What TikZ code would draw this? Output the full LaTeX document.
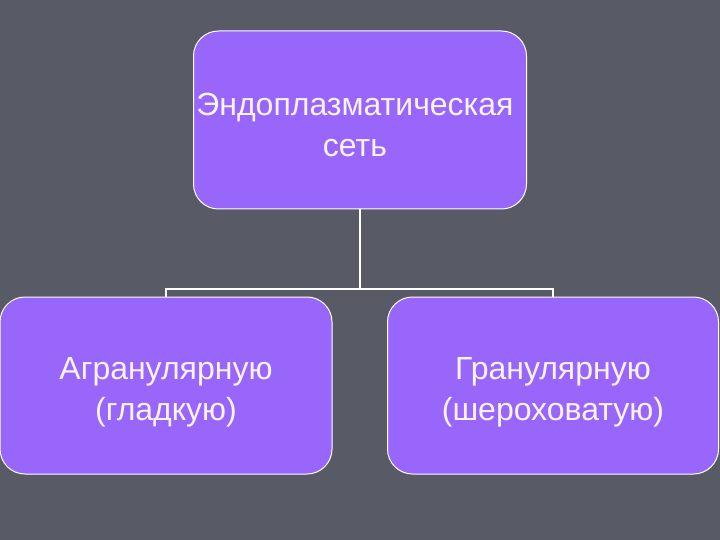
\documentclass[tikz,border=0pt]{standalone}
\usepackage{fontspec}
\setmainfont{Liberation Sans}
\definecolor{slidebg}{HTML}{585A65}
\definecolor{boxfill}{HTML}{9966FC}
\definecolor{boxtext}{HTML}{FBF2FB}

\begin{document}
\begin{tikzpicture}[x=1pt,y=1pt,yscale=-1,xscale=1,
	erbox/.style={draw=white, line width=1pt, fill=boxfill, rounded corners=25pt, inner sep=0pt},
	ertext/.style={text=boxtext, align=center, inner sep=0pt, font=\fontsize{32}{41}\selectfont},
	link/.style={draw=white, line width=2pt}]
			%set diagram from (0,0) to (720,540)
			\fill[slidebg] (0,0) rectangle (720,540);
			\useasboundingbox (0,0) rectangle (720,540);
			
			% Top box
			\node[erbox, minimum width=333pt, minimum height=178pt] (er) at (360,120) {};
			\node[ertext] (ertxt) at (355,125) {Эндоплазматическая\\сеть};
			% Left box
			\node[erbox, minimum width=332pt, minimum height=177pt] (agran) at (166,385.5) {};
			\node[ertext] (agrantxt) at (166,392) {Агранулярную\\(гладкую)};
			% Right box
			\node[erbox, minimum width=331pt, minimum height=177pt] (gran) at (553,385.5) {};
			\node[ertext] (grantxt) at (553,392) {Гранулярную\\(шероховатую)};
			
			% Connectors
			\coordinate (fork) at (360,289);
			\draw[link] (er.south) -- (fork);
			\draw[link] (agran.north) |- (fork) -| (gran.north);
					
		\end{tikzpicture}
\end{document}
